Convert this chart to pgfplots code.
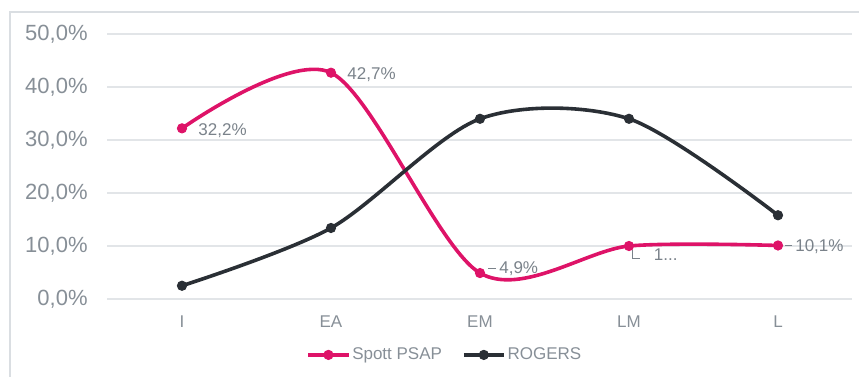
\documentclass[border=0pt]{standalone}
\usepackage{pgfplots}
\usepackage{pgfplotstable}
\pgfplotsset{compat=1.18}
\usepackage{fontspec}
\setmainfont{Liberation Sans}
\definecolor{pinkc}{RGB}{222,19,104}
\definecolor{darkc}{RGB}{42,47,53}
\definecolor{gridc}{RGB}{226,229,232}
\definecolor{framec}{RGB}{218,222,226}
\definecolor{textc}{RGB}{122,130,138}
\definecolor{tickc}{RGB}{135,143,151}

\pgfplotstableread{
x y dx dy lab
0 32.2 8 -1 {32,2\%}
1 42.7 8 -1 {42,7\%}
2 4.9 4 2 {\rule[0.55ex]{4pt}{0.5pt}\,4,9\%}
3 10.0 1.2 -4.5 {\rule[0.2ex]{0.5pt}{4.5pt}\rule[0.2ex]{3.5pt}{0.5pt}\hspace{7pt}1...}
4 10.1 3.5 -0.5 {\rule[0.55ex]{3.5pt}{0.5pt}\,10,1\%}
}\psap

\pgfplotstableread{
x y
0 2.5
1 13.4
2 34.0
3 34.0
4 15.8
}\rogers

\begin{document}
\begin{tikzpicture}[x=1pt,y=1pt]
\path[use as bounding box] (-53.75,-38.5) rectangle (375.75,149.5);
\draw[framec, line width=0.8pt] (-48.75,-45) -- (-48.75,143.5) -- (385,143.5);
\begin{axis}[
  at={(0,0)}, anchor=south west,
  scale only axis, width=372.5pt, height=132.5pt,
  xmin=-0.5, xmax=4.5, ymin=0, ymax=50,
  clip=false,
  axis line style={draw=none},
  major tick length=0pt,
  xtick={0,1,2,3,4},
  xticklabels={I,EA,EM,LM,L},
  ytick={0,10,20,30,40,50},
  yticklabels={{0,0\%},{10,0\%},{20,0\%},{30,0\%},{40,0\%},{50,0\%}},
  ymajorgrids,
  major grid style={draw=gridc, line width=0.9pt},
  yticklabel style={font=\fontsize{11}{13}\selectfont, text=tickc, anchor=east, inner sep=0pt, xshift=-9.75pt},
  xticklabel style={font=\fontsize{8.5}{10}\selectfont, text=tickc, anchor=north, inner sep=0pt, yshift=-8pt},
  legend columns=2,
  legend style={at={(0.453,-0.211)}, anchor=center, draw=none, fill=none,
    font=\fontsize{8.5}{10}\selectfont, text=tickc,
    nodes={inner sep=1pt},
    /tikz/every even column/.append style={column sep=9pt}},
  legend image code/.code={\draw[mark repeat=2,mark phase=2,#1] plot coordinates {(0pt,0pt) (10pt,0pt) (20pt,0pt)};},
]
\addplot[pinkc, line width=1.8pt, smooth, mark=*, mark size=2.3pt,
  mark options={solid, fill=pinkc, draw=pinkc, line width=0.5pt},
  nodes near coords, point meta=explicit symbolic,
  visualization depends on={\thisrow{dx} \as \dx},
  visualization depends on={\thisrow{dy} \as \dy},
  every node near coord/.append style={anchor=west, inner sep=0pt, xshift=\dx pt, yshift=\dy pt,
     font=\fontsize{8.5}{10}\selectfont, text=textc},
] table[x=x, y=y, meta=lab] {\psap};
\addlegendentry{Spott PSAP}
\addplot[darkc, line width=1.8pt, smooth, mark=*, mark size=2.3pt,
  mark options={solid, fill=darkc, draw=darkc, line width=0.5pt},
] table[x=x, y=y] {\rogers};
\addlegendentry{ROGERS}
\end{axis}
\end{tikzpicture}
\end{document}
